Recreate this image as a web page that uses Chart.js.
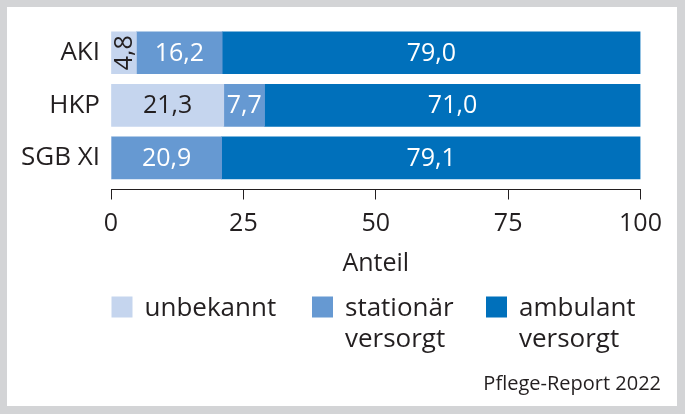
<!DOCTYPE html>
<html>
<head>
<meta charset="utf-8">
<script src="https://cdn.jsdelivr.net/npm/chart.js@4.4.1/dist/chart.umd.min.js"></script>
<style>
  html, body { margin: 0; padding: 0; }
  body { width: 685px; height: 414px; background: #d3d4d6; position: relative; overflow: hidden; }
  #panel { position: absolute; left: 7px; top: 7px; width: 670px; height: 399px; background: #fff; }
  canvas { display: block; }
</style>
</head>
<body>
<div id="panel"><canvas id="chart" width="670" height="399"></canvas></div>
<script>
/* ═══ Versorgungsort nach Gruppe (Anteil in %) ═══ */
var CATEGORIES  = ['AKI', 'HKP', 'SGB XI'];
var UNBEKANNT   = [4.8, 21.3, 0];
var STATIONAER  = [16.2, 7.7, 20.9];
var AMBULANT    = [79.0, 71.0, 79.1];
var X_TICKS     = [0, 25, 50, 75, 100];
var SOURCE      = 'Pflege-Report 2022';

var FONT  = '"Open Sans", "Noto Sans", sans-serif';
var INK   = '#231f20';
var COLORS = { light: '#c5d5ee', mid: '#6699d2', dark: '#0070bb' };

var fmt = function(v) { return v.toFixed(1).replace('.', ','); };
var pts = function(arr) { return arr.map(function(v, i) { return { x: v, y: i }; }); };

/* ── Werte in die Balken schreiben ── */
var barLabels = {
  id: 'barLabels',
  afterDatasetsDraw: function(chart) {
    var c = chart.ctx;
    c.save();
    c.font = '25px ' + FONT;
    c.textAlign = 'center';
    c.textBaseline = 'middle';
    chart.data.datasets.forEach(function(ds, di) {
      chart.getDatasetMeta(di).data.forEach(function(bar, i) {
        var v = ds.data[i].x;
        if (!v) return;
        var txt = fmt(v);
        var w = Math.abs(bar.x - bar.base);
        var cx = (bar.x + bar.base) / 2;
        c.fillStyle = ds.labelColor;
        if (c.measureText(txt).width > w - 4) {
          // schmales Segment: Text hochkant
          c.save();
          c.translate(cx + 1, bar.y);
          c.rotate(-Math.PI / 2);
          c.fillText(txt, 0, 0);
          c.restore();
        } else {
          c.fillText(txt, cx, bar.y + 1);
        }
      });
    });
    c.restore();
  }
};

/* ── Legende (zweizeilig) + Quelle ── */
var legendBox = {
  id: 'legendBox',
  afterDraw: function(chart) {
    var c = chart.ctx;
    var xs = [104.5, 305, 479];
    c.save();
    c.font = '26px ' + FONT;
    c.textBaseline = 'alphabetic';
    c.textAlign = 'left';
    chart.data.datasets.forEach(function(ds, di) {
      c.fillStyle = ds.backgroundColor;
      c.fillRect(xs[di], 289.5, 21, 21);
      c.fillStyle = INK;
      ds.legendLines.forEach(function(line, li) {
        c.fillText(line, xs[di] + 33, 309 + li * 31);
      });
    });
    c.font = '20px ' + FONT;
    c.textAlign = 'right';
    c.fillText(SOURCE, 654, 383);
    c.restore();
  }
};

new Chart(document.getElementById('chart'), {
  type: 'bar',
  data: {
    datasets: [
      { label: 'unbekannt', legendLines: ['unbekannt'], data: pts(UNBEKANNT), backgroundColor: COLORS.light, labelColor: INK, stack: 's' },
      { label: 'stationär versorgt', legendLines: ['stationär', 'versorgt'], data: pts(STATIONAER), backgroundColor: COLORS.mid, labelColor: '#fff', stack: 's' },
      { label: 'ambulant versorgt', legendLines: ['ambulant', 'versorgt'], data: pts(AMBULANT), backgroundColor: COLORS.dark, labelColor: '#fff', stack: 's' }
    ]
  },
  plugins: [barLabels, legendBox],
  options: {
    indexAxis: 'y',
    responsive: false,
    animation: false,
    barThickness: 42,
    layout: { padding: { left: 0, top: 19.4, right: 36.5, bottom: 127.5 } },
    plugins: { legend: { display: false }, tooltip: { enabled: false } },
    scales: {
      x: {
        type: 'linear', stacked: true, min: 0, max: 100,
        afterBuildTicks: function(s) { s.ticks = X_TICKS.map(function(v) { return { value: v }; }); },
        afterFit: function(s) { s.height = 89; },
        grid: { drawOnChartArea: false, drawTicks: true, tickLength: 10, color: INK, lineWidth: 1 },
        border: { display: true, color: INK, width: 1 },
        ticks: { color: INK, font: { family: FONT, size: 25 }, padding: 9, maxRotation: 0 },
        title: { display: true, text: 'Anteil', color: INK, font: { family: FONT, size: 25 }, padding: 0 }
      },
      y: {
        type: 'linear', reverse: true, min: -0.5, max: 2.6, offset: false,
        afterBuildTicks: function(s) { s.ticks = CATEGORIES.map(function(_, i) { return { value: i }; }); },
        afterFit: function(s) { s.width = 104; s.paddingTop = 0; s.paddingBottom = 0; },
        grid: { display: false, drawTicks: false, tickLength: 0, offset: false },
        border: { display: false },
        ticks: { color: INK, font: { family: FONT, size: 26 }, padding: 11,
          callback: function(v) { return CATEGORIES[v]; } }
      }
    }
  }
});
</script>
</body>
</html>
